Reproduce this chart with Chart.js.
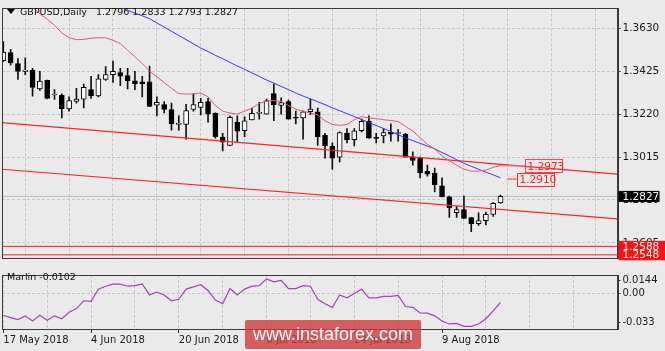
<!DOCTYPE html>
<html>
<head>
<meta charset="utf-8">
<script src="https://cdn.jsdelivr.net/npm/chart.js@4.4.1/dist/chart.umd.min.js"></script>
<style>
  html, body { margin: 0; padding: 0; background: #eaeaea; }
  #wrap { position: relative; width: 665px; height: 351px; overflow: hidden; font-family: "DejaVu Sans", sans-serif; }
  #main { position: absolute; left: 0; top: 0; }
  #osc { position: absolute; left: 0; top: 267px; }
  #head { position: absolute; left: 7px; top: 6px; font-size: 9.5px; color: #111; white-space: pre; }
  #head .tri { display: inline-block; width: 0; height: 0; border-left: 4px solid transparent; border-right: 4px solid transparent; border-top: 5px solid #000; margin-right: 5px; vertical-align: 1px; }
  #marlin { position: absolute; left: 7px; top: 271px; font-size: 9.5px; color: #111; }
  #mark { position: absolute; left: 245px; top: 320px; width: 176px; height: 29px; background: rgba(208, 58, 58, 0.8);
          color: #fff; font-family: "Liberation Sans", Arial, sans-serif; font-size: 18px; line-height: 29px; text-align: center; border-radius: 2px; }
</style>
</head>
<body>
<div id="wrap">
  <canvas id="main" width="665" height="267"></canvas>
  <canvas id="osc" width="665" height="84"></canvas>
  <div id="head"><span class="tri"></span>GBPUSD,Daily   1.2796 1.2833 1.2793 1.2827</div>
  <div id="marlin">Marlin -0.0102</div>
  <div id="mark">www.instaforex.com</div>
</div>
<script>
// trading days, one per bar
var dates = ['17 May 2018','18 May 2018','21 May 2018','22 May 2018','23 May 2018','24 May 2018','25 May 2018','28 May 2018','29 May 2018','30 May 2018',
  '31 May 2018','1 Jun 2018','4 Jun 2018','5 Jun 2018','6 Jun 2018','7 Jun 2018','8 Jun 2018','11 Jun 2018','12 Jun 2018','13 Jun 2018',
  '14 Jun 2018','15 Jun 2018','18 Jun 2018','19 Jun 2018','20 Jun 2018','21 Jun 2018','22 Jun 2018','25 Jun 2018','26 Jun 2018','27 Jun 2018',
  '28 Jun 2018','29 Jun 2018','2 Jul 2018','3 Jul 2018','4 Jul 2018','5 Jul 2018','6 Jul 2018','9 Jul 2018','10 Jul 2018','11 Jul 2018',
  '12 Jul 2018','13 Jul 2018','16 Jul 2018','17 Jul 2018','18 Jul 2018','19 Jul 2018','20 Jul 2018','23 Jul 2018','24 Jul 2018','25 Jul 2018',
  '26 Jul 2018','27 Jul 2018','30 Jul 2018','31 Jul 2018','1 Aug 2018','2 Aug 2018','3 Aug 2018','6 Aug 2018','7 Aug 2018','8 Aug 2018',
  '9 Aug 2018','10 Aug 2018','13 Aug 2018','14 Aug 2018','15 Aug 2018','16 Aug 2018','17 Aug 2018','20 Aug 2018','21 Aug 2018'];

var opens  = [1.3477,1.3515,1.3463,1.3425,1.3432,1.3341,1.3382,1.3312,1.3311,1.3246,
  1.3281,1.3292,1.3338,1.3308,1.3387,1.3410,1.3420,1.3405,1.3380,1.3375,
  1.3375,1.3263,1.3266,1.3243,1.3172,1.3171,1.3243,1.3253,1.3281,1.3225,
  1.3111,1.3071,1.3182,1.3141,1.3193,1.3224,1.3220,1.3319,1.3262,1.3281,
  1.3203,1.3202,1.3232,1.3232,1.3121,1.3068,1.3015,1.3129,1.3098,1.3141,
  1.3186,1.3107,1.3117,1.3134,1.3128,1.3124,1.3015,1.3010,1.2947,1.2939,
  1.2878,1.2825,1.2749,1.2764,1.2726,1.2696,1.2711,1.2741,1.2796];
var highs  = [1.3568,1.3531,1.3486,1.3490,1.3440,1.3425,1.3384,1.3338,1.3318,1.3303,
  1.3344,1.3364,1.3402,1.3410,1.3448,1.3475,1.3440,1.3440,1.3425,1.3402,
  1.3450,1.3303,1.3281,1.3273,1.3212,1.3268,1.3319,1.3296,1.3296,1.3227,
  1.3129,1.3212,1.3212,1.3208,1.3250,1.3277,1.3293,1.3364,1.3299,1.3288,
  1.3235,1.3235,1.3292,1.3250,1.3129,1.3083,1.3136,1.3152,1.3152,1.3197,
  1.3212,1.3129,1.3152,1.3174,1.3147,1.3129,1.3040,1.3015,1.2977,1.2962,
  1.2916,1.2828,1.2779,1.2828,1.2726,1.2749,1.2752,1.2797,1.2833];
var lows   = [1.3472,1.3455,1.3387,1.3410,1.3307,1.3334,1.3294,1.3291,1.3202,1.3235,
  1.3273,1.3250,1.3296,1.3303,1.3382,1.3372,1.3357,1.3341,1.3338,1.3303,
  1.3256,1.3212,1.3227,1.3144,1.3144,1.3101,1.3235,1.3217,1.3182,1.3106,
  1.3045,1.3071,1.3086,1.3113,1.3193,1.3197,1.3220,1.3189,1.3220,1.3197,
  1.3174,1.3101,1.3218,1.3071,1.3010,1.2957,1.2992,1.3083,1.3068,1.3136,
  1.3106,1.3083,1.3083,1.3091,1.3091,1.3015,1.2977,1.2916,1.2924,1.2848,
  1.2825,1.2726,1.2726,1.2722,1.2658,1.2688,1.2691,1.2731,1.2793];
var closes = [1.3517,1.3466,1.3425,1.3432,1.3349,1.3379,1.3296,1.3314,1.3247,1.3285,
  1.3293,1.3349,1.3308,1.3390,1.3410,1.3425,1.3402,1.3379,1.3367,1.3367,
  1.3258,1.3277,1.3243,1.3174,1.3175,1.3238,1.3266,1.3277,1.3220,1.3113,
  1.3086,1.3205,1.3139,1.3189,1.3225,1.3226,1.3284,1.3266,1.3276,1.3197,
  1.3201,1.3232,1.3245,1.3113,1.3068,1.3010,1.3132,1.3098,1.3141,1.3186,
  1.3106,1.3105,1.3132,1.3125,1.3130,1.3015,1.2999,1.2939,1.2934,1.2883,
  1.2825,1.2772,1.2764,1.2722,1.2696,1.2711,1.2741,1.2794,1.2827];

// pink (fast) and blue (slow) moving averages
var maFast = [null,null,null,null,1.3735,1.3700,1.3675,1.3646,1.3609,1.3586,
  1.3577,1.3578,1.3584,1.3586,1.3586,1.3574,1.3558,1.3527,1.3495,1.3463,
  1.3426,1.3399,1.3372,1.3344,1.3319,1.3317,1.3317,1.3322,1.3303,1.3262,
  1.3235,1.3226,1.3221,1.3235,1.3249,1.3271,1.3283,1.3285,1.3281,1.3262,
  1.3244,1.3235,1.3226,1.3217,1.3189,1.3171,1.3167,1.3171,1.3194,1.3208,
  1.3203,1.3199,1.3194,1.3190,1.3185,1.3162,1.3140,1.3108,1.3076,1.3053,
  1.3021,1.2998,1.2976,1.2957,1.2948,1.2948,1.2953,1.2966,1.2975];
var maSlow = [null,null,null,null,null,null,null,null,null,null,
  null,null,null,null,null,1.3745,1.3732,1.3718,1.3704,1.3691,
  1.3677,1.3657,1.3637,1.3617,1.3597,1.3577,1.3557,1.3537,1.3520,1.3502,
  1.3486,1.3468,1.3451,1.3435,1.3418,1.3401,1.3384,1.3369,1.3353,1.3338,
  1.3322,1.3307,1.3294,1.3280,1.3266,1.3251,1.3237,1.3223,1.3209,1.3195,
  1.3180,1.3166,1.3152,1.3137,1.3122,1.3107,1.3094,1.3081,1.3068,1.3055,
  1.3037,1.3020,1.3003,1.2985,1.2971,1.2957,1.2943,1.2930,1.2916];

var marlin = [-0.0247,-0.0274,-0.0297,-0.0254,-0.0313,-0.0247,-0.0303,-0.0254,-0.0287,-0.0214,
  -0.0172,-0.0083,-0.0089,0.0049,0.0082,0.0105,0.0105,0.0082,0.0089,0.0109,
  -0.0017,0.0016,-0.0017,-0.0083,-0.0066,0.0049,0.0075,0.0099,0.0033,-0.0076,
  -0.0116,0.0055,-0.0017,0.0049,0.0082,0.0089,0.0164,0.0131,0.0148,0.0055,
  0.0055,0.0089,0.0082,-0.0066,-0.0116,-0.0160,-0.0017,-0.0050,0.0000,0.0049,
  -0.0050,-0.0050,-0.0033,-0.0033,-0.0023,-0.0148,-0.0158,-0.0221,-0.0224,-0.0254,
  -0.0313,-0.0346,-0.0340,-0.0373,-0.0373,-0.0346,-0.0287,-0.0198,-0.0102];

// channel lines (bar index -> price), horizontal levels, bid
var trendX = [-0.18, 84];
var trendUpper = [1.3180, 1.2934];
var trendLower = [1.2957, 1.2720];
var levels = [1.2588, 1.2548];
var bid = 1.2827;
var maFastTag = 1.2973;
var maSlowTag = 1.2910;

var priceTicks = [1.2605, 1.2810, 1.3015, 1.3220, 1.3425, 1.3630];
var marlinTicks = [-0.033, 0, 0.0144];
var marlinTickText = ['-0.033', '0.00', '0.0144'];
var gridBars = [0, 6, 12, 18, 24, 30, 36, 42, 48, 54, 60, 66, 72, 78];

var xMin = -0.18, xMax = 84;
var axisFont = { family: 'DejaVu Sans', size: 10.5 };
var gridCol = '#c6c6c6';

Chart.defaults.font.family = 'DejaVu Sans';
Chart.defaults.animation = false;

function pts(arr) {
  return arr.map(function (v, i) { return { x: i, y: v }; }).filter(function (p) { return p.y !== null; });
}

var frame = {
  id: 'frame',
  afterDraw: function (chart) {
    var a = chart.chartArea, ctx = chart.ctx;
    ctx.save();
    ctx.strokeStyle = '#3a3a3a';
    ctx.lineWidth = 1;
    ctx.strokeRect(Math.round(a.left) + 0.5, Math.round(a.top) + 0.5, Math.round(a.right - a.left), Math.round(a.bottom - a.top));
    ctx.restore();
  }
};

var tags = {
  id: 'tags',
  afterDraw: function (chart) {
    var ctx = chart.ctx, x = chart.scales.x, y = chart.scales.y, a = chart.chartArea;
    ctx.save();
    ctx.font = '10.5px "DejaVu Sans"';
    ctx.textBaseline = 'middle';
    var r = a.right + 1;
    // bid tag
    var py = y.getPixelForValue(bid);
    ctx.fillStyle = '#000';
    ctx.fillRect(r, py - 5.5, 41, 11);
    ctx.fillStyle = '#fff';
    ctx.fillText(bid.toFixed(4), r + 4, py + 0.5);
    // level tags
    ctx.fillStyle = '#ff1010';
    levels.forEach(function (v) { var p = y.getPixelForValue(v); ctx.fillRect(r, p - 5.5, 48, 11); });
    ctx.fillStyle = '#fff';
    levels.forEach(function (v) { ctx.fillText(v.toFixed(4), r + 4, y.getPixelForValue(v) + 0.5); });

    // moving-average tags inside the plot
    var lx = x.getPixelForValue(opens.length - 1);
    var yA = y.getPixelForValue(maFastTag), yB = y.getPixelForValue(maSlowTag);
    ctx.lineWidth = 1;
    ctx.strokeStyle = '#ee6f86';
    ctx.beginPath(); ctx.moveTo(lx, yA); ctx.lineTo(lx + 24, yA); ctx.stroke();
    ctx.strokeStyle = '#ff2a2a';
    ctx.beginPath(); ctx.moveTo(lx + 7, yB); ctx.lineTo(lx + 16, yB); ctx.stroke();
    ctx.strokeStyle = '#f04a5a';
    ctx.strokeRect(Math.round(lx + 24) + 0.5, Math.round(yA - 6.5) + 0.5, 37, 13);
    ctx.strokeStyle = '#ff2a2a';
    ctx.strokeRect(Math.round(lx + 16) + 0.5, Math.round(yB - 6.5) + 0.5, 37, 13);
    ctx.fillStyle = '#ff2020';
    ctx.fillText(maFastTag.toFixed(4), Math.round(lx + 24) + 2.5, yA + 1);
    ctx.fillText(maSlowTag.toFixed(4), Math.round(lx + 16) + 2.5, yB + 1);
    ctx.restore();
  }
};

var bodies = opens.map(function (o, i) { return { x: i, y: [o, closes[i]] }; });
var wicks = lows.map(function (l, i) { return { x: i, y: [l, highs[i]] }; });

new Chart(document.getElementById('main'), {
  type: 'bar',
  data: {
    datasets: [
      { type: 'line', data: pts(maFast), borderColor: '#e25878', borderWidth: 1, pointRadius: 0, order: -3 },
      { type: 'line', data: pts(maSlow), borderColor: '#3a3af0', borderWidth: 1, pointRadius: 0, order: -3 },
      { type: 'line', data: [{ x: trendX[0], y: trendUpper[0] }, { x: trendX[1], y: trendUpper[1] }], borderColor: '#ff2424', borderWidth: 1.2, pointRadius: 0, order: -2 },
      { type: 'line', data: [{ x: trendX[0], y: trendLower[0] }, { x: trendX[1], y: trendLower[1] }], borderColor: '#ff2424', borderWidth: 1.2, pointRadius: 0, order: -2 },
      { type: 'line', data: [{ x: xMin, y: levels[0] }, { x: xMax, y: levels[0] }], borderColor: '#ff1a1a', borderWidth: 1, pointRadius: 0, order: -2 },
      { type: 'line', data: [{ x: xMin, y: levels[1] }, { x: xMax, y: levels[1] }], borderColor: '#f46060', borderWidth: 1.6, pointRadius: 0, order: -2 },
      { type: 'line', data: [{ x: xMin, y: bid }, { x: xMax, y: bid }], borderColor: '#bdbdbd', borderWidth: 1, pointRadius: 0, order: 5 },
      { data: bodies, backgroundColor: opens.map(function (o, i) { return closes[i] >= o ? '#ffffff' : '#000000'; }),
        borderColor: '#000', borderWidth: 1, borderSkipped: false, barThickness: 5, minBarLength: 1, grouped: false, order: 0 },
      { data: wicks, backgroundColor: '#111', barThickness: 1, grouped: false, order: 1 }
    ]
  },
  options: {
    responsive: false,
    layout: { padding: { top: 2, left: 2, right: 0, bottom: 2 } },
    plugins: { legend: { display: false }, tooltip: { enabled: false } },
    scales: {
      x: {
        type: 'linear', min: xMin, max: xMax, offset: false,
        afterBuildTicks: function (s) { s.ticks = gridBars.map(function (v) { return { value: v }; }); },
        afterFit: function (s) { s.height = 0; },
        ticks: { display: false },
        grid: { color: gridCol, drawTicks: false },
        border: { display: false, dash: [3, 2] }
      },
      y: {
        position: 'right', min: 1.2529, max: 1.3727,
        afterBuildTicks: function (s) { s.ticks = priceTicks.map(function (v) { return { value: v }; }); },
        afterFit: function (s) { s.width = 47.5; },
        ticks: { font: axisFont, color: '#1a1a1a', padding: 2, callback: function (v) { return v.toFixed(4); } },
        grid: { color: gridCol, tickLength: 3, tickColor: '#333' },
        border: { color: '#3a3a3a', dash: [3, 2] }
      }
    }
  },
  plugins: [frame, tags]
});

new Chart(document.getElementById('osc'), {
  type: 'line',
  data: {
    datasets: [
      { data: pts(marlin), borderColor: '#a443b8', borderWidth: 1.2, pointRadius: 0 }
    ]
  },
  options: {
    responsive: false,
    layout: { padding: { top: 1, left: 2, right: 0, bottom: 0 } },
    plugins: { legend: { display: false }, tooltip: { enabled: false } },
    scales: {
      x: {
        type: 'linear', min: xMin, max: xMax, offset: false,
        afterBuildTicks: function (s) { s.ticks = gridBars.map(function (v) { return { value: v }; }); },
        afterFit: function (s) { s.height = 22; },
        ticks: {
          autoSkip: false, maxRotation: 0, align: 'start', padding: 1,
          font: { family: 'DejaVu Sans', size: 10 }, color: '#1a1a1a',
          callback: function (v) { return (v % 12 === 0 && dates[v]) ? dates[v] : ''; }
        },
        grid: {
          color: gridCol, tickLength: 4,
          tickColor: function (c) { return (c.tick && c.tick.value % 12 === 0 && dates[c.tick.value]) ? '#333' : 'rgba(0,0,0,0)'; }
        },
        border: { color: '#3a3a3a', dash: [3, 2] }
      },
      y: {
        position: 'right', min: -0.0403, max: 0.0209,
        afterBuildTicks: function (s) { s.ticks = marlinTicks.map(function (v) { return { value: v }; }); },
        afterFit: function (s) { s.width = 47.5; },
        ticks: { font: { family: 'DejaVu Sans', size: 10 }, color: '#1a1a1a', padding: 2,
                 callback: function (v, i) { return marlinTickText[i]; } },
        grid: { color: function (c) { return (c.tick && c.tick.value === 0) ? gridCol : 'rgba(0,0,0,0)'; }, tickLength: 3, tickColor: '#333' },
        border: { color: '#3a3a3a', dash: [3, 2] }
      }
    }
  },
  plugins: [frame]
});
</script>
</body>
</html>
